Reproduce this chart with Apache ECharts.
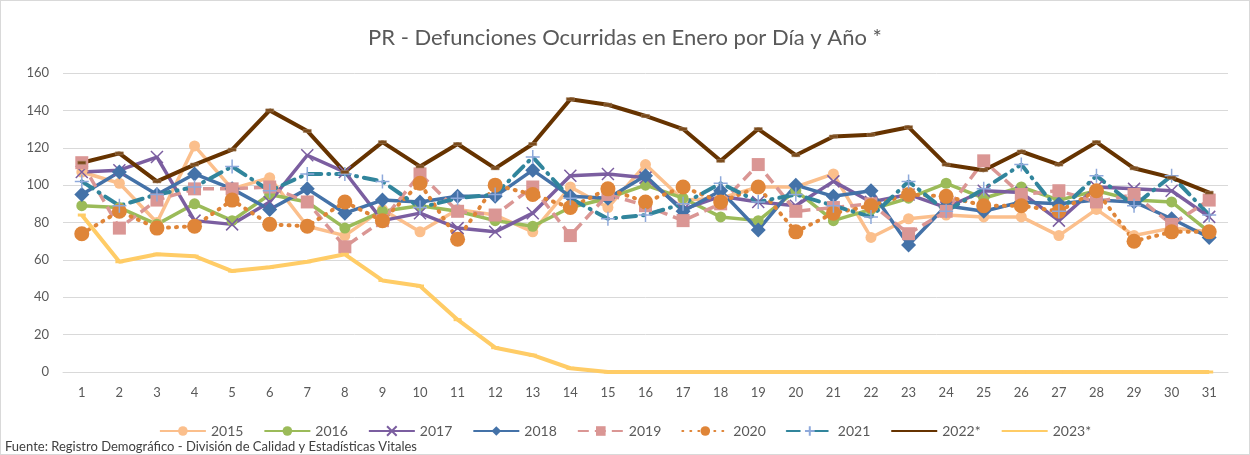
<!DOCTYPE html>
<html>
<head>
<meta charset="utf-8">
<script src="https://cdn.jsdelivr.net/npm/echarts@6/dist/echarts.min.js"></script>
<style>
    html, body { margin: 0; padding: 0; background: #fff; }
    #chart { width: 1248px; height: 453px; border: 1px solid #d9d9d9; }
</style>
</head>
<body>
<div id="chart"></div>
<script>
// dias del mes
const dias = Array.from({ length: 31 }, (_, i) => String(i + 1))

const y2015 = [107, 101, 80, 121, 98, 104, 78, 73, 87, 75, 87, 84, 75, 99, 88, 111, 92, 93, 99, 99, 106, 72, 82, 84, 83, 83, 73, 87, 73, 77, 75]
const y2016 = [89, 88, 79, 90, 81, 95, 91, 77, 86, 89, 86, 81, 78, 88, 93, 100, 93, 83, 81, 97, 81, 87, 93, 101, 93, 99, 92, 97, 92, 91, 75]
const y2017 = [107, 108, 115, 81, 79, 91, 116, 107, 81, 85, 77, 75, 85, 105, 106, 104, 87, 94, 91, 89, 102, 91, 95, 88, 97, 96, 81, 99, 98, 97, 83]
const y2018 = [95, 107, 95, 106, 98, 87, 98, 85, 92, 91, 94, 94, 108, 94, 93, 105, 86, 97, 76, 100, 94, 97, 68, 89, 86, 91, 90, 92, 91, 82, 72]
const y2019 = [112, 77, 92, 98, 98, 99, 91, 67, 81, 106, 86, 84, 99, 73, 95, 89, 81, 90, 111, 86, 88, 90, 74, 86, 113, 95, 97, 91, 95, 79, 92]
const y2020 = [74, 86, 77, 78, 92, 79, 78, 91, 81, 101, 71, 100, 95, 88, 98, 91, 99, 91, 99, 75, 85, 89, 95, 94, 89, 89, 86, 97, 70, 75, 75]
const y2021 = [102, 89, 95, 99, 110, 97, 106, 106, 102, 88, 93, 95, 115, 93, 82, 84, 90, 101, 91, 95, 89, 83, 102, 86, 98, 111, 86, 105, 89, 105, 84]
const y2022 = [112, 117, 102, 111, 119, 140, 129, 107, 123, 110, 122, 109, 122, 146, 143, 137, 130, 113, 130, 116, 126, 127, 131, 111, 108, 118, 111, 123, 109, 104, 96]
const y2023 = [84, 59, 63, 62, 54, 56, 59, 63, 49, 46, 28, 13, 9, 2, 0, 0, 0, 0, 0, 0, 0, 0, 0, 0, 0, 0, 0, 0, 0, 0, 0]

const yTicks = { min: 0, max: 160, interval: 20 }

const fontFam = 'Lato, "Liberation Sans", sans-serif'
const txtColor = '#595959'

const pathX = 'path://M0,0L10,10M10,0L0,10'
const pathPlus = 'path://M5,0L5,10M0,5L10,5'

const mkLine = (name, data, color, opts = {}) => {
    return {
        name: name,
        type: 'line',
        data: data,
        symbol: opts.symbol || 'circle',
        symbolSize: opts.size || 9,
        showAllSymbol: true,
        lineStyle: {
            color: color,
            width: opts.width || 3.5,
            type: opts.dash || 'solid',
            cap: opts.cap || 'butt'
        },
        itemStyle: {
            color: opts.fill || color,
            borderColor: opts.border || color,
            borderWidth: opts.borderWidth || 0
        },
        emphasis: { disabled: true }
    }
}

const myChart = echarts.init(document.getElementById('chart'))

const option = {
    animation: false,
    textStyle: { fontFamily: fontFam },
    title: {
        text: 'PR - Defunciones Ocurridas en Enero por Día y Año *',
        left: 'center',
        top: 21,
        textStyle: { fontSize: 22, fontWeight: 'normal', color: txtColor, fontFamily: fontFam }
    },
    legend: {
        top: 418,
        left: 'center',
        itemWidth: 46,
        itemHeight: 12,
        itemGap: 20,
        textStyle: { fontSize: 14, color: txtColor, fontFamily: fontFam },
        data: [
            '2015', '2016', '2017', '2018', '2019', '2020', '2021',
            { name: '2022*', itemStyle: { opacity: 0 } },
            { name: '2023*', itemStyle: { opacity: 0 } }
        ]
    },
    grid: {
        left: 62,
        right: 21,
        top: 72,
        bottom: 82,
        containLabel: false,
        outerBoundsMode: 'none'
    },
    xAxis: {
        type: 'category',
        data: dias,
        boundaryGap: true,
        axisLine: { lineStyle: { color: '#d9d9d9', width: 1 } },
        axisTick: { show: false },
        axisLabel: { color: txtColor, fontSize: 13, margin: 14, interval: 0 }
    },
    yAxis: {
        type: 'value',
        min: yTicks.min,
        max: yTicks.max,
        interval: yTicks.interval,
        axisLine: { show: false },
        axisTick: { show: false },
        axisLabel: { color: txtColor, fontSize: 13, margin: 14 },
        splitLine: { lineStyle: { color: '#d9d9d9', width: 1 } }
    },
    series: [
        mkLine('2015', y2015, '#FBBF8C', { symbol: 'circle', size: 11 }),
        mkLine('2016', y2016, '#9BBB59', { symbol: 'circle', size: 11 }),
        mkLine('2017', y2017, '#7B5EA0', { symbol: pathX, size: 12, fill: 'transparent', borderWidth: 1.5 }),
        mkLine('2018', y2018, '#4472A8', { symbol: 'diamond', size: 15 }),
        mkLine('2019', y2019, '#DA9694', { symbol: 'rect', size: 13, dash: [11, 6] }),
        mkLine('2020', y2020, '#DF8538', { symbol: 'circle', size: 15, dash: [1, 7], cap: 'round', width: 4 }),
        mkLine('2021', y2021, '#31859C', { symbol: pathPlus, size: 14, fill: 'transparent', border: '#8EA9DB', borderWidth: 1.5, dash: [13, 7, 1, 7], cap: 'round', width: 4 }),
        mkLine('2022*', y2022, '#663300', { symbol: 'rect', size: [8, 3], fill: '#7a4a1a', border: '#a08060', borderWidth: 0.5, width: 4 }),
        mkLine('2023*', y2023, '#FFCC66', { symbol: 'rect', size: [8, 3], width: 4 })
    ],
    graphic: [
        {
            type: 'text',
            left: 4,
            top: 439,
            style: {
                text: 'Fuente: Registro Demográfico - División de Calidad y Estadísticas Vitales',
                fontSize: 13,
                fill: '#404040',
                fontFamily: fontFam
            }
        }
    ]
}

myChart.setOption(option)
</script>
</body>
</html>
